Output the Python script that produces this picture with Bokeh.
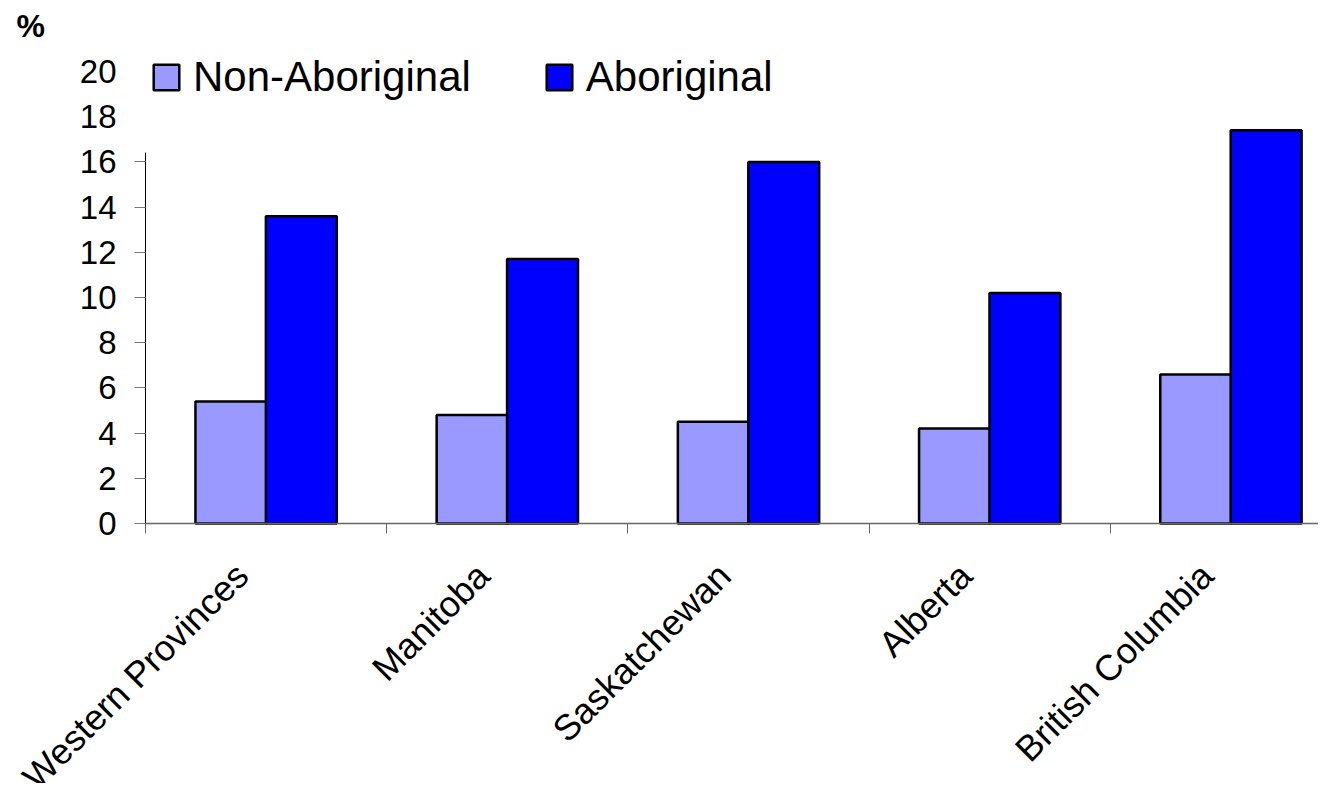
from math import pi
from bokeh.plotting import figure
from bokeh.models import (Range1d, FixedTicker, LinearAxis, Legend, LegendItem)
from bokeh.embed import file_html
from bokeh.resources import INLINE

categories = ["Western Provinces", "Manitoba", "Saskatchewan", "Alberta", "British Columbia"]
non_aboriginal = [5.4, 4.8, 4.5, 4.2, 6.6]
aboriginal = [13.6, 11.7, 16.0, 10.2, 17.4]
series_names = ["Non-Aboriginal", "Aboriginal"]
y_ticks = [0, 2, 4, 6, 8, 10, 12, 14, 16, 18, 20]

FONT = "Liberation Sans"
n = len(categories)
centers = [i + 0.5 for i in range(n)]
bar_w = 0.294
off = 0.146
x_end = 4.863

p = figure(width=1318, height=783, output_backend="svg", toolbar_location=None,
           x_range=Range1d(-0.6012, x_end), y_range=Range1d(-11.5, 20.84),
           x_axis_location=None, y_axis_location=None,
           min_border_left=0, min_border_right=0, min_border_top=52,
           min_border_bottom=0)
p.outline_line_color = None
p.xgrid.visible = False
p.ygrid.visible = False
p.background_fill_color = "white"
p.border_fill_color = "white"

r1 = p.vbar(x=[c - off for c in centers], top=non_aboriginal, width=bar_w,
            fill_color="#9999FF", line_color="black", line_width=2.5)
r2 = p.vbar(x=[c + off for c in centers], top=aboriginal, width=bar_w,
            fill_color="#0000FF", line_color="black", line_width=2.5)

# y axis line + ticks (upper part hidden by the legend in the original)
yin = LinearAxis(ticker=FixedTicker(ticks=y_ticks[:9]), bounds=(0, 16.4), fixed_location=0)
yin.axis_line_color = "black"
yin.axis_line_width = 1
yin.major_tick_out = 11
yin.major_tick_in = 0
yin.major_tick_line_color = "#777777"
yin.minor_tick_out = 0
yin.minor_tick_in = 0
yin.major_label_text_font_size = "1px"
yin.major_label_text_color = None
yin.major_label_standoff = 0
p.add_layout(yin, "left")

# y tick labels
yout = LinearAxis(ticker=FixedTicker(ticks=y_ticks), fixed_location=0)
yout.axis_line_color = None
yout.major_tick_line_color = None
yout.minor_tick_line_color = None
yout.major_tick_out = 0
yout.major_tick_in = 0
yout.major_label_text_font = FONT
yout.major_label_text_font_size = "33px"
yout.major_label_text_color = "black"
yout.major_label_standoff = 29
p.add_layout(yout, "left")

# x axis at y = 0: category labels, tick marks at category boundaries
label_pos = [c - 0.10 for c in centers]
xax = LinearAxis(ticker=FixedTicker(ticks=label_pos, minor_ticks=list(range(n + 1))),
                 fixed_location=0, bounds=(0, x_end))
xax.major_label_overrides = {c: lab for c, lab in zip(label_pos, categories)}
xax.major_label_orientation = pi / 4
xax.major_label_text_font = FONT
xax.major_label_text_font_size = "36px"
xax.major_label_text_color = "black"
xax.major_label_standoff = 36
xax.major_tick_out = 0
xax.major_tick_in = 0
xax.minor_tick_out = 10
xax.minor_tick_in = 0
xax.minor_tick_line_color = "#666666"
xax.axis_line_color = "#666666"
xax.axis_line_width = 1.5
p.add_layout(xax, "below")

legend = Legend(items=[LegendItem(label=series_names[0], renderers=[r1]),
                       LegendItem(label=series_names[1], renderers=[r2])],
                location=(150, 682), orientation="horizontal")
legend.glyph_width = 32
legend.glyph_height = 32
legend.label_text_font = FONT
legend.label_text_font_size = "42px"
legend.label_text_color = "black"
legend.label_standoff = 11
legend.spacing = 72
legend.padding = 0
legend.margin = 0
legend.border_line_color = None
legend.background_fill_alpha = 0
p.add_layout(legend, "center")

p.title.text = "%"
p.title.text_font = FONT
p.title.text_font_size = "32px"
p.title.text_font_style = "bold"
p.title.text_color = "black"
p.title.align = "left"
p.title.vertical_align = "top"
p.title.offset = 16
p.title.standoff = 14

open("out.html", "w").write(file_html(p, INLINE))
